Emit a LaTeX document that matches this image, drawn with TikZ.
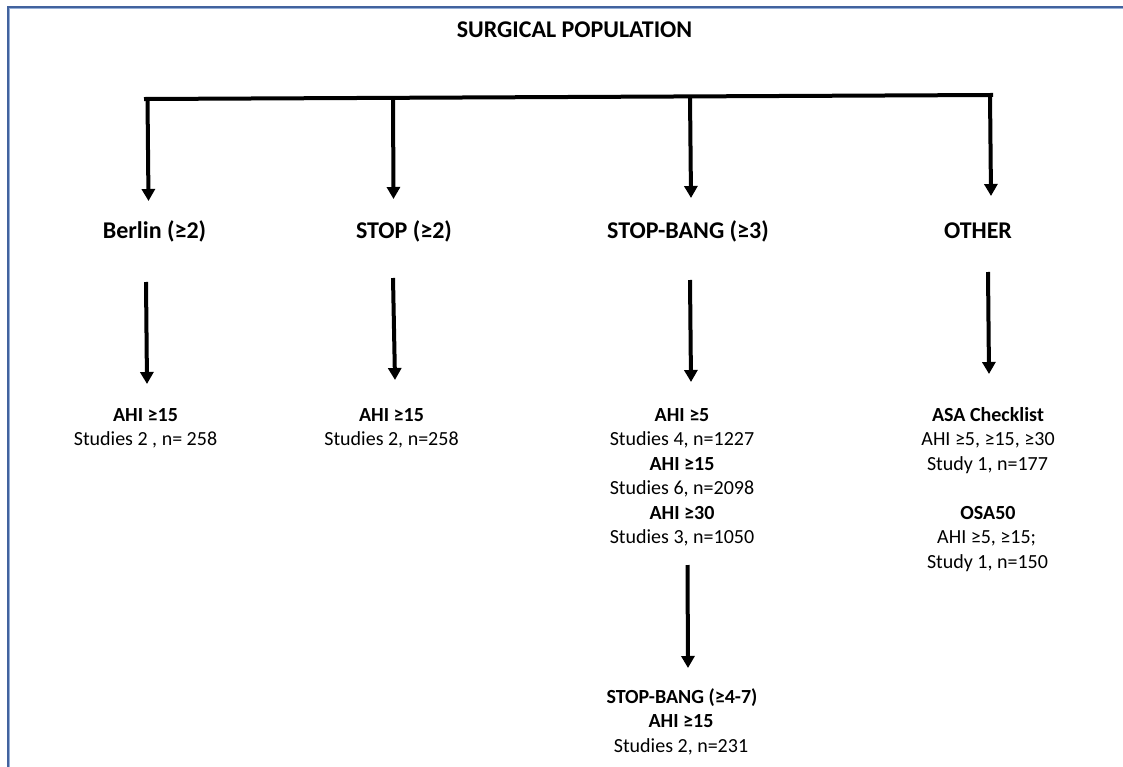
\documentclass[tikz,border=0pt]{standalone}
\usepackage{fontspec}
\setmainfont{Carlito}
\usetikzlibrary{arrows.meta}
\definecolor{framec}{RGB}{66,98,158}
\definecolor{framel}{RGB}{150,175,215}
\begin{document}
\begin{tikzpicture}[x=1pt,y=-1pt,
  conn/.style={line width=4pt,-{Triangle[width=13pt,length=12pt]}},
  barline/.style={line width=4pt,line cap=rect},
  framestyle/.style={draw=framec,line width=2.2pt},
  head/.style={font=\fontsize{24}{29}\selectfont\bfseries,anchor=base,inner sep=0pt},
  sub/.style={font=\fontsize{20}{24.5}\selectfont\bfseries,anchor=base,inner sep=0pt},
  txt/.style={font=\fontsize{20}{24.5}\selectfont,anchor=base,inner sep=0pt}]
\useasboundingbox (0,0) rectangle (1123,767);
% frame
\draw[framestyle] (1123,7) -- (8,7) -- (8,767);
\draw[framel,line width=0.6pt] (1123,8.6) -- (9.6,8.6) -- (9.6,767);

% title
\node[head] (title) at (574.5,38) {SURGICAL POPULATION};

% bar and coordinates
\coordinate (bl) at (146,99);
\coordinate (br) at (991,95);
\draw[barline] (bl) -- (br);
\coordinate (a1s) at (147.5,99);   \coordinate (a1e) at (148.5,201);
\coordinate (a2s) at (393,97.8);   \coordinate (a2e) at (393.5,199);
\coordinate (a3s) at (690,96.4);   \coordinate (a3e) at (691,198);
\coordinate (a4s) at (990,95);     \coordinate (a4e) at (991,196);
\draw[conn] (a1s) -- (a1e);
\draw[conn] (a2s) -- (a2e);
\draw[conn] (a3s) -- (a3e);
\draw[conn] (a4s) -- (a4e);

% level 1 labels
\node[head] (berlin) at (154.5,238) {Berlin (≥2)};
\node[head] (stop) at (404,238) {STOP (≥2)};
\node[head] (sb) at (688,238) {STOP-BANG (≥3)};
\node[head] (other) at (978,238) {OTHER};

% level 2 arrows
\coordinate (b1s) at (146,282); \coordinate (b1e) at (147,384);
\coordinate (b2s) at (393,278); \coordinate (b2e) at (395,380);
\coordinate (b3s) at (690,280); \coordinate (b3e) at (691,382);
\coordinate (b4s) at (988,272); \coordinate (b4e) at (989,374);
\draw[conn] (b1s) -- (b1e);
\draw[conn] (b2s) -- (b2e);
\draw[conn] (b3s) -- (b3e);
\draw[conn] (b4s) -- (b4e);

% Berlin block
\node[sub] (be1) at (145.5,421) {AHI ≥15};
\node[txt] (be2) at (145.5,445.5) {Studies 2 , n= 258};

% STOP block
\node[sub] (st1) at (391.5,421) {AHI ≥15};
\node[txt] (st2) at (391.5,445.5) {Studies 2, n=258};

% STOP-BANG block
\node[sub] (sb1) at (682,421) {AHI ≥5};
\node[txt] (sb2) at (682,445.5) {Studies 4, n=1227};
\node[sub] (sb3) at (682,470) {AHI ≥15};
\node[txt] (sb4) at (682,494.5) {Studies 6, n=2098};
\node[sub] (sb5) at (682,519) {AHI ≥30};
\node[txt] (sb6) at (682,543.5) {Studies 3, n=1050};

% OTHER block
\node[sub] (ot1) at (988,421) {ASA Checklist};
\node[txt] (ot2) at (988,445.5) {AHI ≥5, ≥15, ≥30};
\node[txt] (ot3) at (987.5,470) {Study 1, n=177};
\node[sub] (ot4) at (988,519) {OSA50};
\node[txt,anchor=base west] (ot5) at (937,543.5) {AHI ≥5, ≥15;};
\node[txt] (ot6) at (987.5,568) {Study 1, n=150};

% level 3
\coordinate (c1s) at (687.5,565); \coordinate (c1e) at (688,668);
\draw[conn] (c1s) -- (c1e);
\node[sub] (sbx1) at (682,703) {STOP-BANG (≥4-7)};
\node[sub] (sbx2) at (681,727.5) {AHI ≥15};
\node[txt] (sbx3) at (681,752) {Studies 2, n=231};
\end{tikzpicture}
\end{document}
